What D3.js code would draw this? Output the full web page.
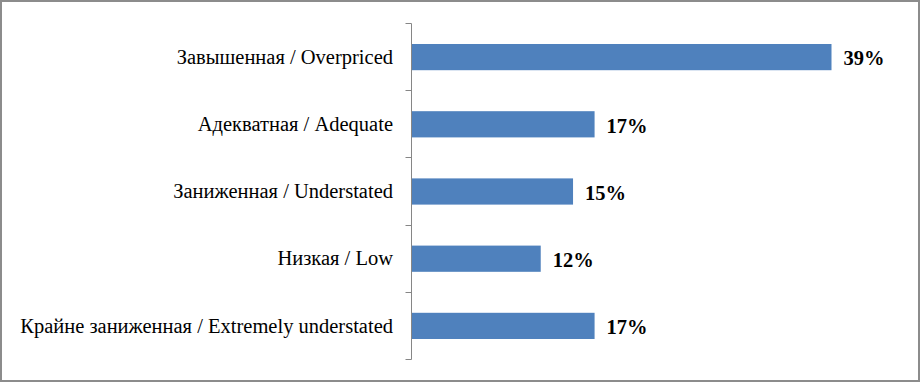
<!DOCTYPE html>
<html><head><meta charset="utf-8">
<script src="https://cdn.jsdelivr.net/npm/d3@7"></script>
<style>html,body{margin:0;padding:0;background:#fff;}svg{display:block;}
text{font-family:"Liberation Serif","Times New Roman",Tinos,"DejaVu Serif",serif;}</style>
</head><body>
<svg id="c" width="921" height="383"></svg>
<script>
const categories = ["Завышенная / Overpriced","Адекватная / Adequate","Заниженная / Understated","Низкая / Low","Крайне заниженная / Extremely understated"];
const values = [39, 17, 15, 12, 17];
const valueLabels = ["39%","17%","15%","12%","17%"];

const svg = d3.select("#c");
const W = 921, H = 383;
svg.append("rect").attr("x",1).attr("y",1).attr("width",918).attr("height",380)
  .attr("fill","#fff").attr("stroke","#8c8c8c").attr("stroke-width",2);

const x0 = 411.5;
const x = d3.scaleLinear().domain([0,39]).range([x0, 831.5]);
const y = d3.scaleBand().domain(categories).range([23.5, 359.5]).paddingInner(0.61).paddingOuter(0.305);

svg.selectAll("rect.bar").data(categories).enter().append("rect").attr("class","bar")
  .attr("x", x0).attr("y", d=>y(d)).attr("height", y.bandwidth())
  .attr("width", (d,i)=>x(values[i])-x0).attr("fill","#4F81BD");

const step = (359.5-23.5)/categories.length;
const g = svg.append("g");
g.append("line").attr("x1",x0).attr("x2",x0).attr("y1",23.5).attr("y2",359.5).attr("stroke","#868686").attr("stroke-width",1);
for (let i=0;i<=categories.length;i++){
  const yy = 23.5 + Math.round(step*i);
  g.append("line").attr("x1",x0-6).attr("x2",x0).attr("y1",yy).attr("y2",yy).attr("stroke","#868686").attr("stroke-width",1);
}

svg.selectAll("text.cat").data(categories).enter().append("text").attr("class","cat")
  .attr("x", 393).attr("y", d=>y(d)+y.bandwidth()/2).attr("dy","0.33em")
  .attr("text-anchor","end")
  .attr("font-size",20.5).attr("fill","#000").text(d=>d);

svg.selectAll("text.val").data(categories).enter().append("text").attr("class","val")
  .attr("x", (d,i)=>x(values[i])+12).attr("y", d=>y(d)+y.bandwidth()/2).attr("dy","0.4em")
  .attr("font-weight","bold")
  .attr("font-size",20.5).attr("fill","#000").text((d,i)=>valueLabels[i]);
</script>
</body></html>
